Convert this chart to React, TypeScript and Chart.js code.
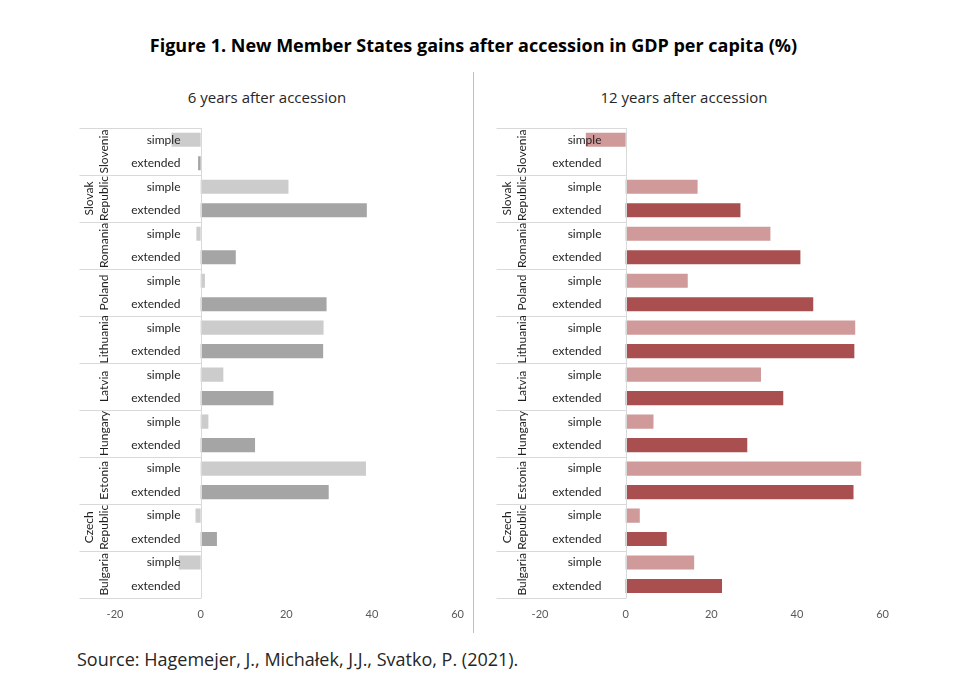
import React, { useEffect, useRef } from 'react';
import Chart from 'chart.js/auto';

const countryNames = ['Slovenia', 'Slovak Republic', 'Romania', 'Poland', 'Lithuania', 'Latvia', 'Hungary', 'Estonia', 'Czech Republic', 'Bulgaria'];
const countryLines = [['Slovenia'], ['Slovak', 'Republic'], ['Romania'], ['Poland'], ['Lithuania'], ['Latvia'], ['Hungary'], ['Estonia'], ['Czech', 'Republic'], ['Bulgaria']];
const variants = ['simple', 'extended'];

const sixSimple = [-6.8, 20.5, -1.0, 1.0, 28.7, 5.3, 1.8, 38.6, -1.2, -5.1];
const sixExtended = [-0.6, 38.8, 8.2, 29.4, 28.6, 17.0, 12.7, 29.9, 3.8, 0];
const twelveSimple = [-9.3, 16.8, 33.8, 14.5, 53.6, 31.6, 6.5, 55.0, 3.3, 16.0];
const twelveExtended = [0, 26.8, 40.8, 43.8, 53.4, 36.8, 28.4, 53.2, 9.6, 22.5];

const xMin = -20;
const xMax = 60;
const xStep = 20;

const CHART_FONT = 'Lato, "Open Sans", sans-serif';

const rowLabelsPlugin = {
  id: 'rowLabels',
  afterDatasetsDraw(chart: any, _args: any, opts: any) {
    const { ctx, chartArea, scales } = chart;
    const x = scales.x;
    const y = scales.y;
    const zx = Math.round(x.getPixelForValue(0)) + 0.5;
    const half = (y.getPixelForValue(1) - y.getPixelForValue(0)) / 2;
    const left = zx - opts.areaWidth;
    const n = chart.data.labels.length;
    ctx.save();
    ctx.strokeStyle = '#d9d9d9';
    ctx.lineWidth = 1;
    ctx.beginPath();
    ctx.moveTo(zx, chartArea.top);
    ctx.lineTo(zx, chartArea.bottom);
    ctx.stroke();
    for (let g = 0; g <= countryLines.length; g++) {
      const yy = g < countryLines.length ? y.getPixelForValue(g * 2) - half : y.getPixelForValue(n - 1) + half;
      const py = Math.round(yy) + 0.5;
      ctx.beginPath();
      ctx.moveTo(left, py);
      ctx.lineTo(zx, py);
      ctx.stroke();
    }
    ctx.fillStyle = '#1f1f1f';
    ctx.font = '12px ' + CHART_FONT;
    ctx.textAlign = 'right';
    ctx.textBaseline = 'middle';
    for (let i = 0; i < n; i++) {
      ctx.fillText(variants[i % 2], zx - opts.subOffset, y.getPixelForValue(i));
    }
    ctx.textAlign = 'center';
    ctx.font = '12px ' + CHART_FONT;
    for (let g = 0; g < countryLines.length; g++) {
      const cy = (y.getPixelForValue(g * 2) + y.getPixelForValue(g * 2 + 1)) / 2;
      const lines = countryLines[g];
      lines.forEach((line, j) => {
        const cx = zx - opts.countryOffset - (lines.length - 1 - j) * 15;
        ctx.save();
        ctx.translate(cx, cy);
        ctx.rotate(-Math.PI / 2);
        ctx.fillText(line, 0, 0);
        ctx.restore();
      });
    }
    ctx.restore();
  },
};

type PanelProps = {
  simple: number[];
  extended: number[];
  simpleColor: string;
  extendedColor: string;
  left: number;
  width: number;
  padLeft: number;
  areaWidth: number;
  subOffset: number;
  countryOffset: number;
};

function Panel(p: PanelProps) {
  const ref = useRef<HTMLCanvasElement | null>(null);
  useEffect(() => {
    if (!ref.current) return;
    const labels: string[] = [];
    const values: number[] = [];
    const colors: string[] = [];
    countryNames.forEach((c, i) => {
      labels.push(c + ' simple');
      values.push(p.simple[i]);
      colors.push(p.simpleColor);
      labels.push(c + ' extended');
      values.push(p.extended[i]);
      colors.push(p.extendedColor);
    });
    const chart = new Chart(ref.current, {
      type: 'bar',
      data: {
        labels,
        datasets: [
          {
            data: values,
            backgroundColor: colors,
            borderWidth: 0,
            barPercentage: 0.6,
            categoryPercentage: 1,
          },
        ],
      },
      options: {
        indexAxis: 'y',
        responsive: false,
        animation: false,
        layout: { padding: { left: p.padLeft, right: 0, top: 8, bottom: 9 } },
        plugins: {
          legend: { display: false },
          tooltip: { enabled: false },
          rowLabels: { areaWidth: p.areaWidth, subOffset: p.subOffset, countryOffset: p.countryOffset },
        } as any,
        scales: {
          x: {
            type: 'linear',
            min: xMin,
            max: xMax,
            grid: { display: false, drawTicks: false },
            border: { display: false },
            ticks: { stepSize: xStep, padding: 10, color: '#595959', font: { family: CHART_FONT, size: 11 } },
          },
          y: { display: false },
        },
      },
      plugins: [rowLabelsPlugin],
    });
    return () => chart.destroy();
  }, []);
  return (
    <canvas
      ref={ref}
      width={p.width}
      height={520}
      style={{ position: 'absolute', left: p.left, top: 120, width: p.width, height: 520 }}
    />
  );
}

export default function App() {
  return (
    <div style={{ position: 'absolute', left: 0, top: 0, width: 976, height: 699, background: '#fff', fontFamily: '"Open Sans", sans-serif' }}>
      <div style={{ position: 'absolute', left: 0, width: 947, top: 33, textAlign: 'center', fontWeight: 700, fontSize: 18, lineHeight: '24px', color: '#000' }}>
        Figure 1. New Member States gains after accession in GDP per capita (%)
      </div>
      <div style={{ position: 'absolute', left: 167, width: 200, top: 86, textAlign: 'center', fontSize: 15, lineHeight: '22px', color: '#262626' }}>
        6 years after accession
      </div>
      <div style={{ position: 'absolute', left: 584, width: 200, top: 86, textAlign: 'center', fontSize: 15, lineHeight: '22px', color: '#262626' }}>
        12 years after accession
      </div>
      <div style={{ position: 'absolute', left: 473, top: 72, width: 1, height: 561, background: '#bfbfbf' }} />
      <Panel
        simple={sixSimple}
        extended={sixExtended}
        simpleColor="#cccccc"
        extendedColor="#a5a5a5"
        left={70}
        width={404}
        padLeft={45}
        areaWidth={122}
        subOffset={21}
        countryOffset={97}
      />
      <Panel
        simple={twelveSimple}
        extended={twelveExtended}
        simpleColor="#d09a9a"
        extendedColor="#a94f4f"
        left={490}
        width={409}
        padLeft={50}
        areaWidth={130}
        subOffset={25}
        countryOffset={104}
      />
      <div style={{ position: 'absolute', left: 77, top: 646, fontSize: 18, lineHeight: '26px', color: '#262626' }}>
        Source: Hagemejer, J., Michałek, J.J., Svatko, P. (2021).
      </div>
    </div>
  );
}
